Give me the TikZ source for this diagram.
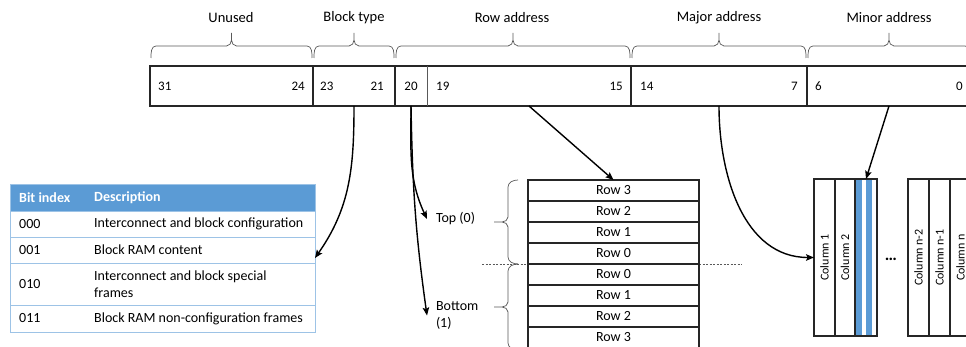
\documentclass[tikz,border=0pt]{standalone}
\usepackage{fontspec}
\setmainfont{Carlito}
\usetikzlibrary{arrows.meta,calc}
\definecolor{hdrblue}{HTML}{5B9BD5}
\definecolor{tblline}{HTML}{9DC3E6}
\definecolor{ink}{HTML}{262626}
\definecolor{pen}{HTML}{595959}

% rectangle node spanning x1..x2, y1..y2 (y grows downwards)
\newcommand\boxnode[6]{%
  \node[#1, minimum width={#4-#3}, minimum height={#6-#5}] (#2)
    at ({(#3+#4)/2},{(#5+#6)/2}) {};}

% curly brace opening downwards over a bit field
\newcommand\topbrace[2]{%
  \pgfmathsetmacro\bm{(#1+#2)/2}%
  \draw[bracepen] (#1+1,58) to[out=90,in=180] (#1+6,46) -- (\bm-5,46)
    to[out=0,in=-90] (\bm,40) -- (\bm,33) -- (\bm,40)
    to[out=-90,in=180] (\bm+5,46) -- (#2-6,46) to[out=0,in=90] (#2-1,58);}

% curly brace pointing left beside the row stack
\newcommand\sidebrace[2]{%
  \pgfmathsetmacro\bm{(#1+#2)/2}%
  \draw[bracepen] (518,#1) to[out=180,in=90] (508,#1+7) -- (508,\bm-5)
    to[out=-90,in=0] (502,\bm) -- (494,\bm) -- (502,\bm)
    to[out=0,in=90] (508,\bm+5) -- (508,#2-7) to[out=-90,in=180] (518,#2);}

\begin{document}
\begin{tikzpicture}[x=1pt,y=-1pt,
  font=\fontsize{14}{17}\selectfont,
  field/.style={draw=ink, line width=1.3pt, inner sep=0, outer sep=0},
  bare/.style={inner sep=0, outer sep=0},
  tcell/.style={draw=tblline, line width=0.8pt, inner sep=0, outer sep=0},
  rowbox/.style={draw=ink, line width=1.1pt, minimum width=171, minimum height=21,
    inner sep=0, outer sep=0},
  colbox/.style={draw=ink, line width=1.1pt, inner sep=0, outer sep=0},
  bitnum/.style={inner sep=0, font=\fontsize{13}{15}\selectfont},
  txt/.style={inner sep=0, anchor=west},
  head/.style={inner sep=0, font=\fontsize{14.5}{17}\selectfont},
  coltxt/.style={rotate=90, inner sep=0, font=\fontsize{12}{14}\selectfont},
  bracepen/.style={draw=pen, line width=0.7pt},
  conn/.style={draw=black, line width=1.4pt,
    -{Stealth[length=8pt,width=6.5pt,inset=1.5pt]}}]

\useasboundingbox (0,0) rectangle (966,347);

% ---------- frame address register ----------
\boxnode{field}{f1}{150}{313}{66}{106}
\boxnode{field}{f2}{313}{395}{66}{106}
\boxnode{field}{frow}{395}{631}{66}{106}
\boxnode{bare}{f3}{395}{427}{66}{106}
\boxnode{bare}{f4}{427}{631}{66}{106}
\boxnode{field}{f5}{631}{807}{66}{106}
\boxnode{field}{f6}{807}{971}{66}{106}
\draw[pen, line width=1pt] (f3.north east) -- (f3.south east);

\node[bitnum, anchor=west] (n31) at ([xshift=8]f1.west) {31};
\node[bitnum, anchor=east] (n24) at ([xshift=-8]f1.east) {24};
\node[bitnum, anchor=west] (n23) at ([xshift=7]f2.west) {23};
\node[bitnum, anchor=east] (n21) at ([xshift=-11]f2.east) {21};
\node[bitnum] (n20) at (f3) {20};
\node[bitnum, anchor=west] (n19) at ([xshift=9]f4.west) {19};
\node[bitnum, anchor=east] (n15) at ([xshift=-8]f4.east) {15};
\node[bitnum, anchor=west] (n14) at ([xshift=9]f5.west) {14};
\node[bitnum, anchor=east] (n7) at ([xshift=-9]f5.east) {7};
\node[bitnum, anchor=west] (n6) at ([xshift=8]f6.west) {6};
\node[bitnum, anchor=east] (n0) at ([xshift=-8]f6.east) {0};

% field braces and names
\topbrace{150}{313}
\topbrace{313}{395}
\topbrace{395}{631}
\topbrace{631}{807}
\topbrace{807}{971}
\node[head] (lunused) at (231,18) {Unused};
\node[head] (lblock) at (354,18) {Block type};
\node[head] (lrow) at (512,18) {Row address};
\node[head] (lmajor) at (719,18) {Major address};
\node[head] (lminor) at (889,18) {Minor address};

% ---------- block type table ----------
\boxnode{tcell, fill=hdrblue}{thead}{10}{315}{184}{211}
\boxnode{tcell}{t000}{10}{315}{211}{237}
\boxnode{tcell}{t001}{10}{315}{237}{263}
\boxnode{tcell}{t010}{10}{315}{263}{305}
\boxnode{tcell}{t011}{10}{315}{305}{332}
\boxnode{bare}{tbl}{10}{315}{184}{332}

\node[txt, text=white, font=\fontsize{14}{17}\selectfont\bfseries] (hbit) at (19,197.5) {Bit index};
\node[txt, text=white, font=\fontsize{14}{17}\selectfont\bfseries] (hdesc) at (94,197.5) {Description};
\node[txt] (b000) at (19,224) {000};
\node[txt] (d000) at (94,224) {Interconnect and block configuration};
\node[txt] (b001) at (19,250) {001};
\node[txt] (d001) at (94,250) {Block RAM content};
\node[txt] (b010) at (19,284) {010};
\node[txt, align=left] (d010) at (94,284) {Interconnect and block special\\frames};
\node[txt] (b011) at (19,318.5) {011};
\node[txt] (d011) at (94,318.5) {Block RAM non-configuration frames};

% ---------- rows ----------
\coordinate (dl) at (482,264);
\coordinate (dr) at (742,264);
\draw[pen, line width=0.6pt, dash pattern=on 2pt off 1.5pt] (dl) -- (dr);

\foreach \nm/\lab [count=\i from 0] in
  {rt3/Row 3, rt2/Row 2, rt1/Row 1, rt0/Row 0, rb0/Row 0, rb1/Row 1, rb2/Row 2, rb3/Row 3}
  \node[rowbox] (\nm) at (613.5,{190.5+21*\i}) {\lab};

\sidebrace{180}{264}
\sidebrace{264}{350}

\node[txt, outer xsep=9pt] (top) at (427,219) {Top (0)};
\node[txt, align=left, outer xsep=9pt] (bottom) at (427,315.5) {Bottom\\(1)};

% ---------- columns ----------
\fill[hdrblue] (856,179) rectangle (862,336);
\fill[hdrblue] (866,179) rectangle (872,336);
\boxnode{colbox}{c1}{814}{835}{179}{336}
\boxnode{colbox}{c2}{835}{855}{179}{336}
\boxnode{colbox}{c3}{855}{877}{179}{336}
\boxnode{colbox}{cn2}{908}{929}{179}{336}
\boxnode{colbox}{cn1}{929}{950}{179}{336}
\boxnode{colbox}{cn}{950}{971}{179}{336}
\node[coltxt] (lc1) at (c1) {Column 1};
\node[coltxt] (lc2) at (c2) {Column 2};
\node[coltxt] (lcn2) at (cn2) {Column n-2};
\node[coltxt] (lcn1) at (cn1) {Column n-1};
\node[coltxt] (lcn) at (cn) {Column n};
\node[inner sep=0, font=\fontsize{17}{20}\selectfont\bfseries] (dots) at (891,259) {\dots};

% ---------- connectors ----------
\draw[conn] (f2.south) to[out=-90,in=55] (tbl.east);
\draw[conn] (f3.south) to[out=-90,in=115] (top.west);
\draw[conn] (f3.south) to[out=-89,in=98] (bottom.west);
\draw[conn] (f4.south) -- (rt3.north);
\draw[conn] (f5.south) to[out=-90,in=180] (c1.west);
\draw[conn] (f6.south) -- (c3.north);

\end{tikzpicture}
\end{document}
